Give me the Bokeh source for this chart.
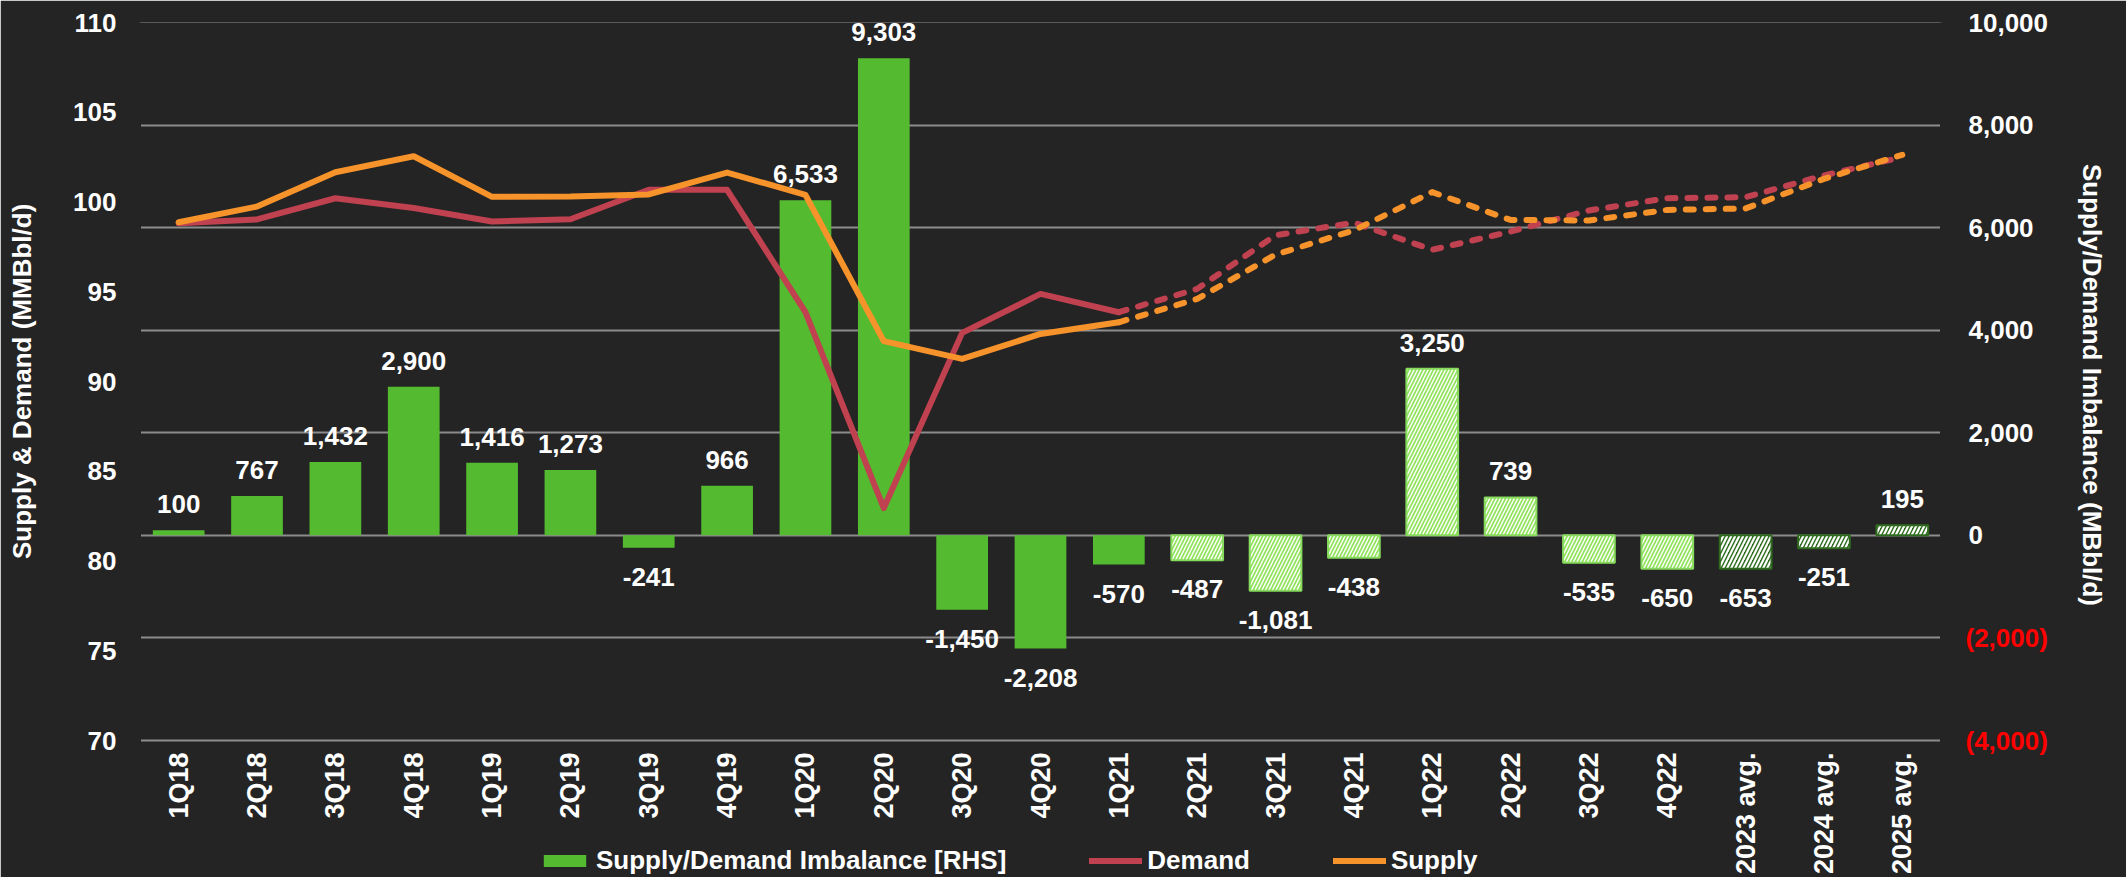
import math
from bokeh.plotting import figure
from bokeh.models import (Range1d, LinearAxis, FixedTicker, Grid, LabelSet, Legend,
                          LegendItem, ColumnDataSource, NumeralTickFormatter)
from bokeh.embed import file_html
from bokeh.resources import INLINE
from bokeh.core.properties import value

# ---------------- data ----------------
categories = ["1Q18", "2Q18", "3Q18", "4Q18", "1Q19", "2Q19", "3Q19", "4Q19",
              "1Q20", "2Q20", "3Q20", "4Q20", "1Q21", "2Q21", "3Q21", "4Q21",
              "1Q22", "2Q22", "3Q22", "4Q22", "2023 avg.", "2024 avg.", "2025 avg."]
imbalance = [100, 767, 1432, 2900, 1416, 1273, -241, 966, 6533, 9303, -1450, -2208,
             -570, -487, -1081, -438, 3250, 739, -535, -650, -653, -251, 195]
demand = [98.82, 99.03, 100.21, 99.67, 98.91, 99.04, 100.68, 100.68, 93.86, 82.95,
          92.71, 94.88, 93.86, 95.16, 98.15, 98.85, 97.34, 98.35, 99.53, 100.21,
          100.27, 101.48, 102.50]
supply = [98.87, 99.75, 101.66, 102.55, 100.29, 100.30, 100.42, 101.64, 100.40, 92.25,
          91.26, 92.65, 93.30, 94.60, 97.07, 98.42, 100.55, 99.00, 98.97, 99.56,
          99.64, 101.29, 102.63]
left_ticks = [70, 75, 80, 85, 90, 95, 100, 105, 110]
right_ticks = [-4000, -2000, 0, 2000, 4000, 6000, 8000, 10000]
legend_labels = ["Supply/Demand Imbalance [RHS]", "Demand", "Supply"]
left_title = "Supply & Demand (MMBbl/d)"
right_title = "Supply/Demand Imbalance (MBbl/d)"

n_actual = 13      # 1Q18..1Q21 actual (solid)
n_forecast_q = 20  # up to 4Q22 light hatched; then annual averages dark hatched

BG = "#242424"
FONT = "Liberation Sans"
GREEN = "#54BA30"
LIGHT_GREEN = "#92E35F"
DARK_GREEN = "#2C6A1D"
RED_LINE = "#C0414F"
ORANGE = "#F7932B"
GRID = "#8C8C8C"

W, H = 2126, 877
FL, FR, FT = 139, 185, 22      # borders around the plot frame
CHART_H = 718                  # height of the gridded chart area
EXTRA = H - FT - CHART_H       # area below the chart (category labels, legend)
NBSP = "\u00a0"

L_MIN, L_MAX = left_ticks[0], left_ticks[-1]
R_MIN, R_MAX = right_ticks[0], right_ticks[-1]
left_range = Range1d(L_MIN - EXTRA * (L_MAX - L_MIN) / CHART_H, L_MAX)
right_range = Range1d(R_MIN - EXTRA * (R_MAX - R_MIN) / CHART_H, R_MAX)

p = figure(width=W, height=H, x_range=categories, y_range=left_range,
           output_backend="svg", toolbar_location=None,
           min_border_left=FL, min_border_right=FR, min_border_top=FT,
           min_border_bottom=0,
           background_fill_color=BG, border_fill_color=BG, outline_line_color=None)
p.extra_y_ranges = {"right": right_range}
p.xgrid.visible = False
p.ygrid.visible = False
p.below = []


def style_axis(ax, size="26px", color="white"):
    # axis line drawn in the background colour hides the frame/border seam
    ax.axis_line_color = BG
    ax.axis_line_width = 3
    ax.major_tick_line_color = None
    ax.minor_tick_line_color = None
    ax.major_tick_out = 0
    ax.major_tick_in = 0
    ax.minor_tick_out = 0
    ax.minor_tick_in = 0
    ax.major_label_text_color = color
    ax.major_label_text_font = FONT
    ax.major_label_text_font_style = "bold"
    ax.major_label_text_font_size = size
    ax.axis_label_text_color = "white"
    ax.axis_label_text_font = FONT
    ax.axis_label_text_font_style = "bold"
    ax.axis_label_text_font_size = "26px"


# left axis (title padded so that it centres on the gridded area, not the whole frame)
ya = p.yaxis[0]
ya.ticker = FixedTicker(ticks=left_ticks)
ya.axis_label = NBSP * 19 + left_title
style_axis(ya)
ya.major_label_standoff = 23
ya.axis_label_standoff = 33

# right axis, part 1 (next to the frame): negative ticks in red, in parentheses
neg_ticks = [t for t in right_ticks if t < 0]
pos_ticks = [t for t in right_ticks if t >= 0]
ra_neg = LinearAxis(y_range_name="right", ticker=FixedTicker(ticks=neg_ticks))
ra_neg.major_label_overrides = {t: f"({-t:,})" for t in neg_ticks}
style_axis(ra_neg, color="#FF0000")
ra_neg.major_label_standoff = 24
p.add_layout(ra_neg, "right")

# right axis, part 2: positive ticks in white + title, pulled back over part 1
ra = LinearAxis(y_range_name="right", ticker=FixedTicker(ticks=pos_ticks),
                formatter=NumeralTickFormatter(format="0,0"),
                axis_label=right_title + NBSP * 18)
style_axis(ra)
ra.axis_line_color = None
ra.major_label_standoff = -82
ra.axis_label_standoff = 26
p.add_layout(ra, "right")

# gridlines at every right-axis tick
grid = Grid(dimension=1, ticker=FixedTicker(ticks=right_ticks), y_range_name="right",
            grid_line_color=GRID, grid_line_width=2)
p.add_layout(grid)

# ---------------- bars ----------------
src_a = ColumnDataSource(dict(x=categories[:n_actual], top=imbalance[:n_actual]))
src_q = ColumnDataSource(dict(x=categories[n_actual:n_forecast_q],
                              top=imbalance[n_actual:n_forecast_q]))
src_y = ColumnDataSource(dict(x=categories[n_forecast_q:], top=imbalance[n_forecast_q:]))

r_bar = p.vbar(x="x", top="top", bottom=0, width=0.66, source=src_a,
               y_range_name="right", fill_color=GREEN, line_color=None)
p.vbar(x="x", top="top", bottom=0, width=0.66, source=src_q, y_range_name="right",
       fill_color=LIGHT_GREEN, line_color="#86DA5C", line_width=2,
       hatch_pattern="/", hatch_color="white", hatch_scale=7, hatch_weight=1.4)
p.vbar(x="x", top="top", bottom=0, width=0.66, source=src_y, y_range_name="right",
       fill_color=DARK_GREEN, line_color="#2F6B1F", line_width=2,
       hatch_pattern="/", hatch_color="white", hatch_scale=8, hatch_weight=2.2)

# ---------------- lines ----------------
l_dem = p.line(categories[:n_actual], demand[:n_actual], line_color=RED_LINE,
               line_width=6, line_join="round", line_cap="round")
p.line(categories[n_actual - 1:], demand[n_actual - 1:], line_color=RED_LINE,
       line_width=6, line_dash="8 12", line_cap="round", line_join="round")
l_sup = p.line(categories[:n_actual], supply[:n_actual], line_color=ORANGE,
               line_width=6, line_join="round", line_cap="round")
p.line(categories[n_actual - 1:], supply[n_actual - 1:], line_color=ORANGE,
       line_width=6, line_dash="8 12", line_cap="round", line_join="round")

# ---------------- data labels ----------------
texts = [f"{v:,}" for v in imbalance]
pos_idx = [i for i, v in enumerate(imbalance) if v >= 0]
neg_idx = [i for i, v in enumerate(imbalance) if v < 0]
src_pos = ColumnDataSource(dict(x=[categories[i] for i in pos_idx],
                                y=[imbalance[i] for i in pos_idx],
                                t=[texts[i] for i in pos_idx]))
src_neg = ColumnDataSource(dict(x=[categories[i] for i in neg_idx],
                                y=[imbalance[i] for i in neg_idx],
                                t=[texts[i] for i in neg_idx]))
for src, off in ((src_pos, 17), (src_neg, -38)):
    p.add_layout(LabelSet(x="x", y="y", text="t", source=src, y_range_name="right",
                          y_offset=off, text_align="center",
                          text_baseline="alphabetic", text_color="white",
                          text_font=value(FONT), text_font_style="bold",
                          text_font_size="26px"))

# ---------------- category labels (rotated, under the chart area) ----------------
src_cat = ColumnDataSource(dict(x=categories, y=[R_MIN] * len(categories), t=categories))
p.add_layout(LabelSet(x="x", y="y", text="t", source=src_cat, y_range_name="right",
                      y_offset=-12, angle=math.pi / 2, text_align="right",
                      text_baseline="middle", text_color="white",
                      text_font=value(FONT), text_font_style="bold",
                      text_font_size="27px"))

# ---------------- legend (bottom of the canvas) ----------------
legend = Legend(items=[LegendItem(label=legend_labels[0], renderers=[r_bar]),
                       LegendItem(label=legend_labels[1], renderers=[l_dem]),
                       LegendItem(label=legend_labels[2], renderers=[l_sup])],
                orientation="horizontal", location=(399, 1), spacing=83,
                glyph_width=53, glyph_height=15, label_standoff=5,
                label_height=30, padding=0, margin=0, border_line_color=None,
                background_fill_alpha=0, label_text_color="white",
                label_text_font=FONT, label_text_font_style="bold",
                label_text_font_size="26px")
p.add_layout(legend)

open("out.html", "w").write(file_html(p, INLINE))
